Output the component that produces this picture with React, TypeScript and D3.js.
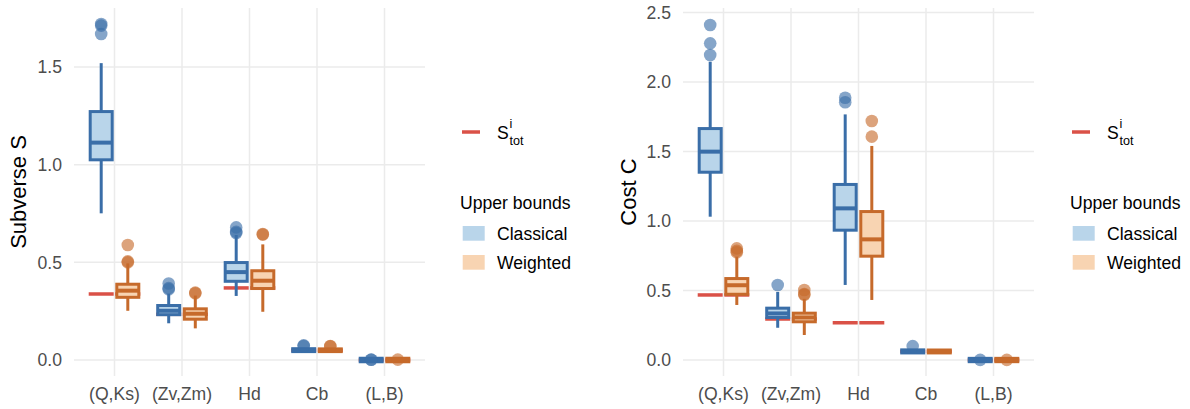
import React from 'react';
import * as d3 from 'd3';

const categories = ['(Q,Ks)', '(Zv,Zm)', 'Hd', 'Cb', '(L,B)'];
const groups = ['Classical', 'Weighted'];

// ---- Subverse S ----
const sTicks = [0, 0.5, 1.0, 1.5];
const sStot = [0.338, 0.234, 0.369, 0.05, 0.0];
const sClassicalQ1 = [1.025, 0.232, 0.403, 0.043, -0.009];
const sClassicalMedian = [1.113, 0.252, 0.45, 0.05, 0.0];
const sClassicalQ3 = [1.272, 0.279, 0.499, 0.058, 0.009];
const sClassicalLow = [0.751, 0.188, 0.328, 0.04, -0.01];
const sClassicalHigh = [1.52, 0.34, 0.64, 0.062, 0.01];
const sClassicalOutliers = [[1.72, 1.712, 1.669], [0.392, 0.368, 0.362], [0.679, 0.656, 0.65], [0.075, 0.072], [0.002, 0.001]];
const sWeightedQ1 = [0.321, 0.209, 0.366, 0.043, -0.009];
const sWeightedMedian = [0.355, 0.237, 0.406, 0.05, 0.0];
const sWeightedQ3 = [0.388, 0.262, 0.457, 0.057, 0.009];
const sWeightedLow = [0.252, 0.162, 0.247, 0.04, -0.01];
const sWeightedHigh = [0.495, 0.33, 0.592, 0.06, 0.01];
const sWeightedOutliers = [[0.589, 0.505, 0.5], [0.345, 0.342], [0.645, 0.642], [0.072, 0.07], [0.002]];

// ---- Cost C ----
const cTicks = [0, 0.5, 1.0, 1.5, 2.0, 2.5];
const cStot = [0.468, 0.295, 0.268, 0.062, 0.0];
const cClassicalQ1 = [1.351, 0.306, 0.934, 0.051, -0.012];
const cClassicalMedian = [1.499, 0.335, 1.091, 0.062, 0.0];
const cClassicalQ3 = [1.665, 0.373, 1.263, 0.073, 0.012];
const cClassicalLow = [1.031, 0.232, 0.54, 0.048, -0.013];
const cClassicalHigh = [2.146, 0.49, 1.767, 0.078, 0.013];
const cClassicalOutliers = [[2.41, 2.278, 2.194], [0.54], [1.887, 1.854], [0.1], [0.001]];
const cWeightedQ1 = [0.473, 0.275, 0.747, 0.051, -0.012];
const cWeightedMedian = [0.538, 0.306, 0.868, 0.062, 0.0];
const cWeightedQ3 = [0.586, 0.337, 1.068, 0.072, 0.012];
const cWeightedLow = [0.396, 0.18, 0.432, 0.046, -0.013];
const cWeightedHigh = [0.743, 0.44, 1.54, 0.078, 0.013];
const cWeightedOutliers = [[0.803, 0.785, 0.775], [0.504, 0.475, 0.47], [1.72, 1.607], [], [0.001]];

const darkColor: Record<string, string> = { Classical: '#3A6EA8', Weighted: '#C66A2B' };
const lightColor: Record<string, string> = { Classical: '#B9D5EA', Weighted: '#F8D4B2' };
const stotColor = '#DA5147';
const FONT = '"Liberation Sans", Arial, Helvetica, sans-serif';

type Box = { cat: string; group: string; q1: number; med: number; q3: number; lo: number; hi: number; out: number[] };

function buildBoxes(
  cq1: number[], cmed: number[], cq3: number[], clo: number[], chi: number[], cout: number[][],
  wq1: number[], wmed: number[], wq3: number[], wlo: number[], whi: number[], wout: number[][]
): Box[] {
  const res: Box[] = [];
  categories.forEach((cat, i) => {
    res.push({ cat, group: 'Classical', q1: cq1[i], med: cmed[i], q3: cq3[i], lo: clo[i], hi: chi[i], out: cout[i] });
    res.push({ cat, group: 'Weighted', q1: wq1[i], med: wmed[i], q3: wq3[i], lo: wlo[i], hi: whi[i], out: wout[i] });
  });
  return res;
}

type PanelProps = {
  x0: number; x1: number; yDomain: [number, number]; ticks: number[]; title: string;
  titleX: number; boxes: Box[]; stot: number[]; legendDx: number;
};

function Panel({ x0, x1, yDomain, ticks, title, titleX, boxes, stot, legendDx }: PanelProps) {
  const top = 8, bottom = 376;
  const x = d3.scalePoint<string>().domain(categories).range([x0, x1]).padding(0.6);
  const dodge = d3.scaleBand<string>().domain(groups).range([-26.6, 26.6]);
  const y = d3.scaleLinear().domain(yDomain).range([bottom, top]);
  const fmt = d3.format('.1f');
  const bw = 22;
  const pos = (cat: string, g: string) => (x(cat) as number) + (dodge(g) as number) + dodge.bandwidth() / 2;
  const lg = 462 + legendDx;
  return (
    <g>
      {/* grid */}
      {ticks.map((t) => (
        <line key={'h' + t} x1={x0} x2={x1} y1={y(t)} y2={y(t)} stroke="#EBEBEB" strokeWidth={1.5} />
      ))}
      {categories.map((c) => (
        <line key={'v' + c} x1={x(c)} x2={x(c)} y1={top} y2={bottom} stroke="#EBEBEB" strokeWidth={1.5} />
      ))}
      {/* tick labels */}
      {ticks.map((t) => (
        <text key={'t' + t} x={x0 - 12} y={y(t)} dy="0.36em" textAnchor="end" fontSize={17.6} fill="#4D4D4D" fontFamily={FONT}>
          {fmt(t)}
        </text>
      ))}
      {categories.map((c) => (
        <text key={'xl' + c} x={x(c)} y={400} textAnchor="middle" fontSize={17.6} fill="#4D4D4D" fontFamily={FONT}>
          {c}
        </text>
      ))}
      <text transform={`translate(${titleX},${(top + bottom) / 2}) rotate(-90)`} textAnchor="middle" dy="0.36em" fontSize={22} fill="#000" fontFamily={FONT}>
        {title}
      </text>
      {/* S_tot reference segments */}
      {categories.map((c, i) =>
        groups.map((g) => (
          <line key={'s' + c + g} x1={pos(c, g) - 12.5} x2={pos(c, g) + 12.5} y1={y(stot[i])} y2={y(stot[i])} stroke={stotColor} strokeWidth={3.5} />
        ))
      )}
      {/* boxes */}
      {boxes.map((b) => {
        const cx = pos(b.cat, b.group);
        const dc = darkColor[b.group];
        return (
          <g key={'b' + b.cat + b.group}>
            <line x1={cx} x2={cx} y1={y(b.q3)} y2={y(b.hi)} stroke={dc} strokeWidth={3} />
            <line x1={cx} x2={cx} y1={y(b.q1)} y2={y(b.lo)} stroke={dc} strokeWidth={3} />
            <rect x={cx - bw / 2} y={y(b.q3)} width={bw} height={Math.max(0.5, y(b.q1) - y(b.q3))} fill={lightColor[b.group]} stroke={dc} strokeWidth={3} />
            <line x1={cx - bw / 2} x2={cx + bw / 2} y1={y(b.med)} y2={y(b.med)} stroke={dc} strokeWidth={4} />
            {b.out.map((o, k) => (
              <circle key={k} cx={cx} cy={y(o)} r={6.3} fill={dc} fillOpacity={0.62} />
            ))}
          </g>
        );
      })}
      {/* legend */}
      <line x1={lg} x2={lg + 18} y1={132} y2={132} stroke={stotColor} strokeWidth={3.5} />
      <text x={lg + 35} y={138.5} fontSize={17.6} fontFamily={FONT} fill="#000">S</text>
      <text x={lg + 47.5} y={127.5} fontSize={12.6} fontFamily={FONT} fill="#000">i</text>
      <text x={lg + 47.5} y={144.5} fontSize={12.6} fontFamily={FONT} fill="#000">tot</text>
      <text x={lg - 2} y={208.5} fontSize={17.6} fontFamily={FONT} fill="#000">Upper bounds</text>
      {groups.map((g, k) => (
        <g key={'lg' + g}>
          <rect x={lg + 0.7} y={226 + k * 29} width={22} height={14.7} fill={lightColor[g]} />
          <text x={lg + 35} y={240 + k * 29} fontSize={17.6} fontFamily={FONT} fill="#000">{g}</text>
        </g>
      ))}
    </g>
  );
}

export default function App() {
  const sBoxes = buildBoxes(
    sClassicalQ1, sClassicalMedian, sClassicalQ3, sClassicalLow, sClassicalHigh, sClassicalOutliers,
    sWeightedQ1, sWeightedMedian, sWeightedQ3, sWeightedLow, sWeightedHigh, sWeightedOutliers
  );
  const cBoxes = buildBoxes(
    cClassicalQ1, cClassicalMedian, cClassicalQ3, cClassicalLow, cClassicalHigh, cClassicalOutliers,
    cWeightedQ1, cWeightedMedian, cWeightedQ3, cWeightedLow, cWeightedHigh, cWeightedOutliers
  );
  return (
    <div>
      <style>{`body{margin:0;background:#fff}`}</style>
      <svg width={1190} height={409} style={{ display: 'block' }}>
        <rect width={1190} height={409} fill="#fff" />
        <Panel x0={74} x1={425} yDomain={[-0.0819, 1.8023]} ticks={sTicks} title="Subverse S" titleX={18.5}
          boxes={sBoxes} stot={sStot} legendDx={0} />
        <Panel x0={683} x1={1034} yDomain={[-0.115, 2.5324]} ticks={cTicks} title="Cost C" titleX={628}
          boxes={cBoxes} stot={cStot} legendDx={610} />
      </svg>
    </div>
  );
}
